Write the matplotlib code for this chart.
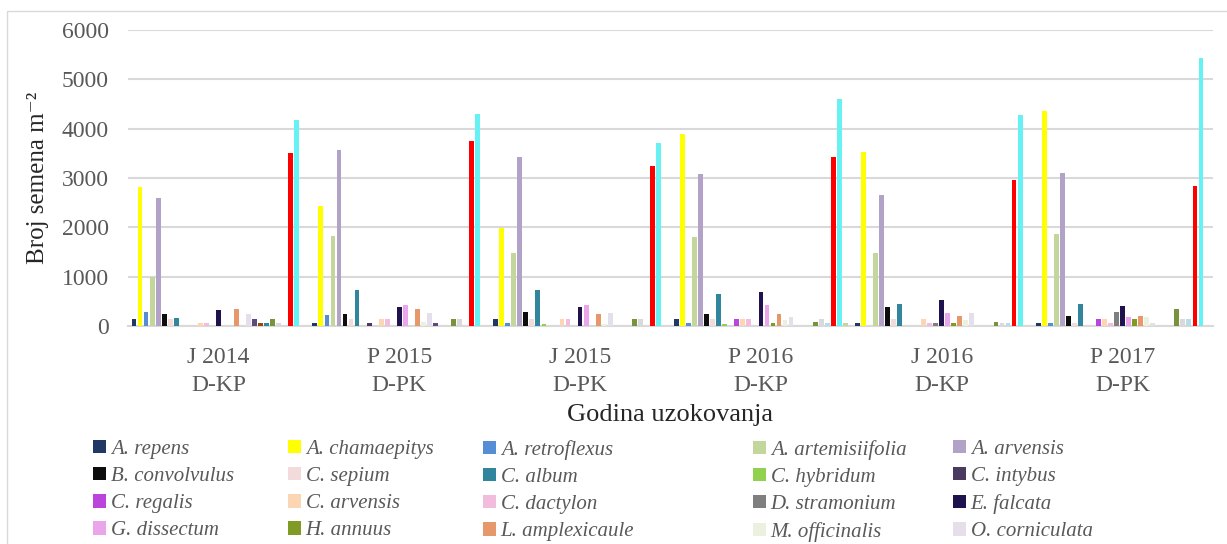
import numpy as np
import matplotlib
matplotlib.use('Agg')
import matplotlib.pyplot as plt
from matplotlib.patches import Rectangle

plt.rcParams['font.family'] = ['Liberation Serif', 'DejaVu Serif']

groups = ['J 2014\nD-KP', 'P 2015\nD-PK', 'J 2015\nD-PK', 'P 2016\nD-KP', 'J 2016\nD-KP', 'P 2017\nD-PK']

# legend shows only the first 20 species, the other series have no visible name
species = ['A. repens', 'A. chamaepitys', 'A. retroflexus', 'A. artemisiifolia', 'A. arvensis',
           'B. convolvulus', 'C. sepium', 'C. album', 'C. hybridum', 'C. intybus',
           'C. regalis', 'C. arvensis', 'C. dactylon', 'D. stramonium', 'E. falcata',
           'G. dissectum', 'H. annuus', 'L. amplexicaule', 'M. officinalis', 'O. corniculata']

colors = ['#1F3864', '#FFFF00', '#558ED5', '#C3D69B', '#B3A2C7',
          '#0D0D0D', '#F2DCDB', '#31859C', '#92D050', '#4A3A60',
          '#BB44DD', '#FCD5B5', '#F2BCDC', '#7F7F7F', '#20124D',
          '#EBA5EB', '#7F9A25', '#E6986A', '#EBF1DE', '#E5DFEC',
          '#604A7B', '#984807', '#2A8A9E', '#77933C', '#D9D9D9',
          '#B7DEE8', '#FF0000', '#66F2F5', '#C3D69B']

# seeds per m2, one value per series (29) for each year
j2014 = [150, 2810, 290, 990, 2600, 250, 140, 170, 0, 0, 0, 70, 70, 0, 320,
         0, 0, 340, 0, 240, 140, 70, 70, 140, 70, 0, 3500, 4180, 0]
p2015 = [70, 2430, 220, 1820, 3560, 250, 140, 720, 0, 70, 0, 140, 140, 0, 390,
         420, 0, 340, 80, 260, 70, 0, 0, 140, 140, 0, 3760, 4290, 0]
j2015 = [140, 1990, 70, 1470, 3430, 290, 140, 720, 40, 0, 0, 140, 140, 0, 390,
         420, 0, 240, 40, 260, 0, 0, 0, 140, 140, 0, 3250, 3710, 0]
p2016 = [140, 3900, 60, 1800, 3080, 240, 140, 650, 40, 0, 140, 140, 140, 0, 690,
         420, 60, 240, 120, 180, 0, 0, 0, 80, 140, 60, 3430, 4600, 60]
j2016 = [70, 3530, 0, 1470, 2650, 390, 140, 450, 0, 0, 0, 140, 70, 70, 520,
         270, 70, 200, 120, 270, 0, 0, 0, 90, 70, 70, 2960, 4280, 0]
p2017 = [70, 4350, 70, 1870, 3100, 200, 70, 450, 0, 0, 140, 140, 70, 280, 400,
         190, 140, 200, 190, 70, 0, 0, 0, 350, 140, 140, 2830, 5440, 0]

data = np.array([j2014, p2015, j2015, p2016, j2016, p2017])
n_series = data.shape[1]

fig = plt.figure(figsize=(12.27, 5.44), dpi=100)
ax = fig.add_axes([128 / 1227, 1 - 326 / 544, (1213 - 128) / 1227, (326 - 30) / 544])

x = np.arange(len(groups))
slot = 1 / 30
bars = []
for i in range(n_series):
    b = ax.bar(x + (i - 14) * slot, data[:, i], width=slot * 0.8, color=colors[i], zorder=3)
    bars.append(b)

ax.set_xlim(-0.5, len(groups) - 0.5)
ax.set_ylim(0, 6000)
ax.set_yticks(np.arange(0, 6001, 1000))
ax.yaxis.grid(True, color='#D9D9D9', lw=1.5, zorder=0)
for s in ['top', 'right', 'left']:
    ax.spines[s].set_visible(False)
ax.spines['bottom'].set_color('#D9D9D9')
ax.spines['bottom'].set_linewidth(1.5)
ax.set_xticks(x)
ax.set_xticklabels(groups, linespacing=1.45)
ax.tick_params(axis='both', length=0, labelsize=17, labelcolor='#595959')
ax.tick_params(axis='y', pad=14)
ax.tick_params(axis='x', pad=15)

ax.set_ylabel('Broj semena m\u207b\u00b2', fontsize=18, color='#262626', labelpad=9)
fig.text(670 / 1227, 1 - 415 / 544, 'Godina uzokovanja', fontsize=19, color='#262626',
         ha='center', va='center')

# one small legend per column, rows read left to right like the original
col_x = [93, 288, 483, 753, 953]
for c, cx in enumerate(col_x):
    idx = [r * 5 + c for r in range(4)]
    leg = fig.legend([bars[k] for k in idx], [species[k] for k in idx], loc='upper left',
                     bbox_to_anchor=(cx / 1227, 1 - 440 / 544), frameon=False,
                     prop={'style': 'italic', 'size': 15}, handlelength=0.6, handleheight=0.6,
                     handletextpad=0.25, labelspacing=0.39, borderpad=0, borderaxespad=0)
    for t in leg.get_texts():
        t.set_color('#595959')

fig.patches.append(Rectangle((7 / 1227, -0.1), 1.1, 1.1 - 11 / 544, transform=fig.transFigure,
                             fill=False, edgecolor='#D9D9D9', lw=1))

fig.savefig('out.png', dpi=100)
